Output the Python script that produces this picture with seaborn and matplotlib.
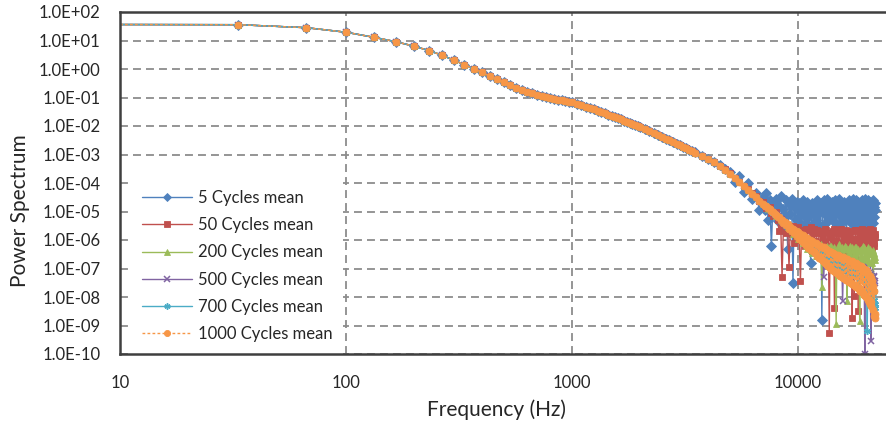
import numpy as np
import pandas as pd
import matplotlib
matplotlib.use("Agg")
import matplotlib.pyplot as plt
import seaborn as sns
from matplotlib.lines import Line2D
from matplotlib.patches import Rectangle
from matplotlib.ticker import FixedLocator, FuncFormatter, NullLocator

# ---------------- data ----------------
series_names = ["5 Cycles mean", "50 Cycles mean", "200 Cycles mean",
                "500 Cycles mean", "700 Cycles mean", "1000 Cycles mean"]
series_colors = ["#4F81BD", "#C0504D", "#9BBB59", "#8064A2", "#4BACC6", "#F79646"]

# DC bin (drawn at the left edge of the log axis, no marker)
dc_freq = 10.0
dc_log10_power = 1.56

# shared part of the spectrum (identical for all series)
freq_low = [33.3, 66.7, 100, 133.3, 166.7, 200, 233.3, 266.7, 300, 333.3,
            366.7, 400, 433.3, 466.7, 500, 533.3, 566.7, 600, 633.3, 666.7,
            700, 733.3, 766.7, 800, 833.3, 866.7, 900, 933.3, 966.7, 1000]
log10_power_low = [1.555, 1.45, 1.29, 1.11, 0.955, 0.80, 0.645, 0.48, 0.31, 0.155,
                   0.01, -0.12, -0.25, -0.365, -0.47, -0.56, -0.65, -0.735, -0.80, -0.855,
                   -0.91, -0.95, -0.99, -1.02, -1.05, -1.08, -1.10, -1.13, -1.15, -1.17]
freq_mid = [1050, 1100, 1150, 1200, 1250, 1300, 1350, 1400, 1450, 1500,
            1550, 1600, 1650, 1700, 1750, 1800, 1850, 1900, 1950, 2000,
            2100, 2200, 2300, 2400, 2500, 2600, 2700, 2800, 2900, 3000,
            3100, 3200, 3300, 3400]
log10_power_mid = [-1.22, -1.27, -1.32, -1.37, -1.42, -1.47, -1.52, -1.56, -1.61, -1.65,
                   -1.69, -1.73, -1.77, -1.81, -1.85, -1.89, -1.93, -1.97, -2.01, -2.05,
                   -2.12, -2.19, -2.25, -2.32, -2.38, -2.44, -2.50, -2.56, -2.62, -2.67,
                   -2.73, -2.78, -2.83, -2.88]

# high-frequency part, where the series separate
freq_high = [3500, 3750, 4000, 4250, 4500, 4750, 5000, 5250, 5500, 5750,
             6000, 6250, 6500, 6750,
             7000, 7125, 7250, 7375, 7500, 7625, 7750, 7875,
             8000, 8125, 8250, 8375, 8500, 8625, 8750, 8875,
             9000, 9125, 9250, 9375, 9500, 9625, 9750, 9875,
             10000, 10125, 10250, 10375, 10500, 10625, 10750, 10875,
             11000, 11125, 11250, 11375, 11500, 11625, 11750, 11875,
             12000, 12125, 12250, 12375, 12500, 12625, 12750, 12875,
             13000, 13125, 13250, 13375, 13500, 13625, 13750, 13875,
             14000, 14125, 14250, 14375, 14500, 14625, 14750, 14875,
             15000, 15125, 15250, 15375, 15500, 15625, 15750, 15875,
             16000, 16125, 16250, 16375, 16500, 16625, 16750, 16875,
             17000, 17125, 17250, 17375, 17500, 17625, 17750, 17875,
             18000, 18125, 18250, 18375, 18500, 18625, 18750, 18875,
             19000, 19125, 19250, 19375, 19500, 19625, 19750, 19875,
             20000, 20125, 20250, 20375, 20500, 20625, 20750, 20875,
             21000, 21125, 21250, 21375, 21500, 21625, 21750, 21875,
             22000]

log10_power_5 = [-2.92, -3.04, -3.15, -3.27, -3.36, -3.50, -3.60, -3.95, -3.75, -4.30,
                 -4.00, -4.55, -4.35, -4.95,
                 -4.50, -4.95, -4.35, -5.30, -4.60, -6.20, -4.70, -5.05,
                 -4.55, -5.35, -4.80, -4.45, -5.60, -4.90, -5.20, -4.60,
                 -6.30, -4.75, -5.10, -4.55, -7.50, -4.85, -5.25, -4.65,
                 -5.35, -4.70, -5.00, -5.55, -4.60, -5.15, -4.85, -5.40,
                 -4.65, -5.20, -4.90, -6.80, -4.70, -5.05, -5.45, -4.75,
                 -5.30, -4.60, -5.10, -4.85, -5.50, -4.70, -8.80, -4.95,
                 -4.60, -5.45, -4.85, -5.15, -4.55, -5.30, -5.00, -4.70,
                 -5.25, -4.65, -5.70, -4.90, -5.10, -4.60, -5.40, -4.80,
                 -5.05, -4.55, -5.50, -4.85, -5.20, -4.70, -5.35, -4.95,
                 -4.65, -5.30, -4.80, -6.20, -4.90, -5.15, -4.60, -5.25,
                 -4.85, -5.40, -4.70, -5.05, -4.55, -5.30, -4.95, -5.10,
                 -4.60, -5.55, -4.80, -5.00, -4.65, -5.35, -4.90, -5.20,
                 -4.75, -5.15, -4.60, -5.45, -4.85, -5.05, -4.55, -5.30,
                 -4.70, -5.25, -4.90, -4.60, -5.50, -4.80, -5.10, -4.65,
                 -5.35, -4.75, -5.00, -4.60, -5.40, -4.85, -5.20, -4.70,
                 -4.95]
log10_power_50 = [-2.93, -3.05, -3.17, -3.28, -3.40, -3.52, -3.66, -3.81, -3.95, -4.10,
                  -4.22, -4.36, -4.45, -4.64,
                  -4.68, -4.80, -4.88, -4.86, -4.85, -5.05, -5.15, -5.10,
                  -5.00, -5.30, -5.70, -5.25, -7.30, -5.45, -5.40, -5.75,
                  -5.60, -6.95, -5.55, -5.80, -5.50, -6.10, -5.85, -5.60,
                  -5.55, -6.00, -7.45, -5.65, -5.70, -6.05, -6.20, -5.60,
                  -5.65, -6.15, -5.95, -5.55, -6.40, -5.75, -5.60, -6.10,
                  -6.05, -5.65, -5.75, -6.30, -6.60, -5.70, -5.80, -6.00,
                  -6.10, -5.60, -5.65, -6.25, -6.30, -5.75, -9.25, -5.85,
                  -5.90, -6.20, -5.70, -5.60, -8.40, -6.05, -6.00, -5.75,
                  -5.75, -6.10, -6.25, -5.65, -5.60, -6.35, -6.10, -5.70,
                  -5.85, -6.00, -6.50, -5.65, -5.70, -6.15, -6.00, -5.75,
                  -5.80, -6.25, -5.70, -8.75, -5.95, -6.05, -7.95, -5.65,
                  -5.65, -6.10, -6.15, -5.70, -8.50, -5.95, -5.85, -6.30,
                  -6.05, -5.60, -5.70, -6.20, -6.35, -5.75, -5.90, -6.05,
                  -5.65, -6.15, -6.20, -5.70, -5.80, -6.25, -6.00, -5.60,
                  -5.75, -6.10, -6.30, -5.65, -5.85, -6.20, -6.10, -5.80,
                  -5.90]
log10_power_200 = [-2.93, -3.05, -3.17, -3.28, -3.40, -3.53, -3.67, -3.82, -3.96, -4.10,
                   -4.24, -4.36, -4.49, -4.61,
                   -4.72, -4.76, -4.82, -4.90, -4.95, -4.96, -5.00, -5.10,
                   -5.15, -5.15, -5.20, -5.30, -5.35, -5.33, -5.38, -5.48,
                   -5.55, -5.50, -5.55, -5.68, -5.80, -5.62, -5.65, -5.85,
                   -5.95, -5.70, -5.80, -6.00, -6.10, -5.85, -5.95, -6.20,
                   -6.30, -5.95, -6.05, -6.35, -6.45, -6.05, -6.15, -6.40,
                   -6.55, -6.10, -6.20, -6.50, -6.40, -6.15, -7.65, -6.35,
                   -6.25, -6.55, -6.60, -6.20, -6.30, -6.65, -6.50, -6.20,
                   -6.20, -6.60, -6.75, -6.25, -6.35, -6.70, -8.95, -6.30,
                   -6.40, -6.15, -6.20, -6.65, -6.55, -6.25, -6.30, -6.60,
                   -6.55, -6.20, -6.25, -6.65, -8.15, -6.30, -6.45, -6.70,
                   -6.20, -6.55, -6.70, -6.25, -6.35, -6.60, -6.50, -6.25,
                   -6.25, -6.65, -6.80, -6.30, -6.40, -6.70, -8.85, -6.35,
                   -6.30, -6.60, -6.70, -6.20, -6.25, -6.65, -6.55, -6.30,
                   -6.35, -6.70, -6.75, -6.25, -6.50, -6.80, -6.45, -6.30,
                   -6.40, -6.75, -6.80, -6.35, -8.30, -6.50, -6.45, -6.70,
                   -6.60]
log10_power_500 = [-2.93, -3.05, -3.17, -3.28, -3.40, -3.53, -3.67, -3.82, -3.97, -4.11,
                   -4.24, -4.37, -4.50, -4.62,
                   -4.73, -4.79, -4.83, -4.89, -4.94, -4.98, -5.03, -5.09,
                   -5.14, -5.17, -5.22, -5.28, -5.33, -5.35, -5.40, -5.46,
                   -5.52, -5.53, -5.58, -5.64, -5.68, -5.69, -5.73, -5.80,
                   -5.85, -5.83, -5.88, -5.95, -6.00, -5.97, -6.02, -6.10,
                   -6.15, -6.08, -6.12, -6.22, -6.30, -6.18, -6.25, -6.38,
                   -6.45, -6.30, -6.35, -6.50, -6.55, -6.38, -6.45, -6.60,
                   -7.30, -6.50, -6.55, -6.72, -6.70, -6.55, -6.60, -6.80,
                   -6.85, -6.60, -6.65, -6.88, -6.90, -6.68, -6.70, -6.92,
                   -6.95, -6.72, -6.75, -7.00, -7.00, -6.78, -8.15, -7.02,
                   -6.85, -7.05, -7.08, -6.80, -6.82, -7.10, -7.12, -6.88,
                   -6.90, -7.05, -7.10, -6.85, -6.88, -7.15, -7.18, -6.92,
                   -6.95, -7.10, -7.15, -6.90, -6.92, -7.20, -7.22, -6.98,
                   -7.00, -7.15, -7.18, -6.95, -6.98, -7.22, -10.0, -7.05,
                   -7.10, -7.25, -7.28, -7.05, -7.08, -7.30, -7.35, -7.12,
                   -9.55, -7.20, -7.25, -7.40, -7.42, -7.28, -7.30, -7.45,
                   -7.50]
log10_power_700 = [-2.93, -3.05, -3.17, -3.28, -3.40, -3.53, -3.67, -3.82, -3.97, -4.11,
                   -4.24, -4.37, -4.50, -4.62,
                   -4.74, -4.78, -4.84, -4.88, -4.93, -4.99, -5.04, -5.08,
                   -5.13, -5.19, -5.24, -5.27, -5.32, -5.37, -5.42, -5.45,
                   -5.50, -5.55, -5.60, -5.62, -5.66, -5.72, -5.76, -5.78,
                   -5.83, -5.87, -5.92, -5.92, -5.96, -6.02, -6.06, -6.06,
                   -6.10, -6.15, -6.20, -6.18, -6.22, -6.28, -6.33, -6.30,
                   -6.35, -6.40, -6.45, -6.40, -6.42, -6.50, -6.55, -6.48,
                   -6.50, -6.60, -6.65, -6.55, -6.58, -6.68, -6.75, -6.60,
                   -6.62, -6.75, -6.85, -6.68, -6.70, -6.82, -6.90, -6.72,
                   -6.75, -6.88, -6.95, -6.78, -6.80, -6.92, -7.05, -6.82,
                   -6.85, -6.98, -7.10, -6.88, -6.90, -7.02, -7.15, -6.92,
                   -7.00, -7.10, -7.20, -6.98, -7.05, -7.15, -7.25, -7.02,
                   -7.10, -7.22, -7.30, -7.08, -7.15, -7.25, -7.40, -7.12,
                   -7.20, -7.32, -7.35, -7.18, -7.25, -7.38, -7.45, -7.22,
                   -7.30, -7.42, -9.20, -7.35, -7.50, -7.55, -7.45, -7.40,
                   -7.70, -7.60, -7.62, -7.75, -7.85, -7.80, -8.10, -8.25,
                   -8.40]
log10_power_1000 = [-2.93, -3.05, -3.17, -3.28, -3.40, -3.53, -3.67, -3.82, -3.97, -4.11,
                    -4.24, -4.37, -4.50, -4.62,
                    -4.72, -4.79, -4.82, -4.89, -4.92, -4.99, -5.02, -5.09,
                    -5.11, -5.21, -5.19, -5.30, -5.29, -5.40, -5.38, -5.49,
                    -5.45, -5.60, -5.53, -5.69, -5.60, -5.77, -5.68, -5.85,
                    -5.72, -5.96, -5.80, -6.05, -5.84, -6.12, -5.90, -6.18,
                    -5.92, -6.28, -6.00, -6.35, -6.04, -6.40, -6.10, -6.46,
                    -6.12, -6.55, -6.18, -6.62, -6.20, -6.68, -6.25, -6.72,
                    -6.26, -6.80, -6.30, -6.88, -6.36, -6.92, -6.40, -6.98,
                    -6.42, -7.05, -6.45, -7.10, -6.48, -7.12, -6.52, -7.16,
                    -6.52, -7.22, -6.55, -7.25, -6.58, -7.30, -6.60, -7.33,
                    -6.62, -7.38, -6.65, -7.42, -6.68, -7.45, -6.72, -7.48,
                    -6.72, -7.50, -6.75, -7.55, -6.80, -7.58, -6.82, -7.62,
                    -6.82, -7.65, -6.85, -7.70, -6.90, -7.72, -6.92, -7.78,
                    -6.92, -7.82, -6.96, -7.86, -7.00, -7.92, -7.05, -7.98,
                    -7.05, -8.02, -7.10, -8.10, -7.18, -8.18, -7.25, -8.25,
                    -7.35, -8.30, -7.45, -8.45, -7.60, -8.65, -7.80, -8.75,
                    -8.60]
log10_power_high = [log10_power_5, log10_power_50, log10_power_200,
                    log10_power_500, log10_power_700, log10_power_1000]

y_ticks = [1e-10, 1e-9, 1e-8, 1e-7, 1e-6, 1e-5, 1e-4, 1e-3, 1e-2, 1e-1, 1e0, 1e1, 1e2]
x_ticks = [10, 100, 1000, 10000]

for nm, hi in zip(series_names, log10_power_high):
    if len(hi) != len(freq_high):
        raise ValueError(f"{nm}: {len(hi)} values vs {len(freq_high)} frequencies")

# ---------------- styling ----------------
markers = ["D", "s", "^", "x", (6, 2, 0), "o"]
marker_sizes = [4.6, 4.6, 5.0, 4.6, 5.0, 5.0]
line_styles = ["-", "-", "-", "-", "-", (0, (2.0, 1.6))]

sns.set_style("white")
plt.rcParams["font.family"] = ["Lato", "DejaVu Sans"]
text_color = "#262626"
spine_color = "#3f3f3f"

fig = plt.figure(figsize=(8.87, 4.22), dpi=100)
ax = fig.add_axes([120 / 887, 68 / 422, 767 / 887, 342 / 422])
ax.set_xscale("log")
ax.set_yscale("log")

freq_all = freq_low + freq_mid + freq_high
handles = []
for name, color, mk, ms, ls, hi in zip(series_names, series_colors, markers,
                                       marker_sizes, line_styles, log10_power_high):
    power = 10 ** np.array(log10_power_low + log10_power_mid + hi)
    df = pd.DataFrame({"Frequency (Hz)": freq_all, "Power Spectrum": power})
    mew = 1.1 if mk == "x" or isinstance(mk, tuple) else 0.6
    sns.lineplot(data=df, x="Frequency (Hz)", y="Power Spectrum", ax=ax,
                 color=color, linewidth=1.0, linestyle=ls, marker=mk,
                 markersize=ms, markeredgecolor=color, markeredgewidth=mew,
                 estimator=None, sort=False, legend=False, zorder=2)
    sns.lineplot(x=[dc_freq, freq_low[0]],
                 y=[10 ** dc_log10_power, 10 ** log10_power_low[0]], ax=ax,
                 color=color, linewidth=1.0, linestyle=ls,
                 estimator=None, sort=False, legend=False, zorder=2)
    handles.append(Line2D([], [], color=color, linewidth=1.0, linestyle=ls,
                          marker=mk, markersize=ms - 0.6, markeredgecolor=color,
                          markeredgewidth=mew))

ax.set_xlim(10, 10 ** (1 + 767 / 226))
ax.set_ylim(1e-10, 1e2)

ax.xaxis.set_major_locator(FixedLocator(x_ticks))
ax.xaxis.set_minor_locator(NullLocator())
ax.xaxis.set_major_formatter(FuncFormatter(lambda v, p: f"{v:.0f}"))
ax.yaxis.set_major_locator(FixedLocator(y_ticks))
ax.yaxis.set_minor_locator(NullLocator())
ax.yaxis.set_major_formatter(FuncFormatter(lambda v, p: f"{v:.1E}"))

ax.set_axisbelow(True)
ax.grid(True, which="major", axis="both", color="#8c8c8c",
        linestyle=(0, (4.4, 2.8)), linewidth=1.3)

ax.tick_params(axis="both", which="major", direction="in", length=4.5, width=1.0,
               color=spine_color, labelsize=12, labelcolor=text_color)
ax.tick_params(axis="y", pad=14)
ax.tick_params(axis="x", pad=15)

for side in ["left", "bottom", "top"]:
    ax.spines[side].set_color(spine_color)
    ax.spines[side].set_linewidth(1.8)
ax.spines["right"].set_visible(False)

ax.set_xlabel("Frequency (Hz)", fontsize=15, color=text_color)
ax.set_ylabel("Power Spectrum", fontsize=15, color=text_color)
ax.xaxis.set_label_coords((497 - 120) / 767, (354 - 399) / 342)
ax.yaxis.set_label_coords((30 - 120) / 767, (354 - 211) / 342)

# white legend area (Excel legend fill)
ax.add_patch(Rectangle(((128 - 120) / 767, 0.0), (343 - 128) / 767, (354 - 172) / 342,
                       transform=ax.transAxes, facecolor="white", edgecolor="none",
                       zorder=1))
leg = ax.legend(handles, series_names, loc="upper left",
                bbox_to_anchor=((142 - 120) / 767, (354 - 190) / 342),
                frameon=False, fontsize=12, handlelength=3.0, handletextpad=0.35,
                labelspacing=0.67, borderpad=0.0, borderaxespad=0.0)
for t in leg.get_texts():
    t.set_color(text_color)

fig.savefig("out.png", dpi=100)
